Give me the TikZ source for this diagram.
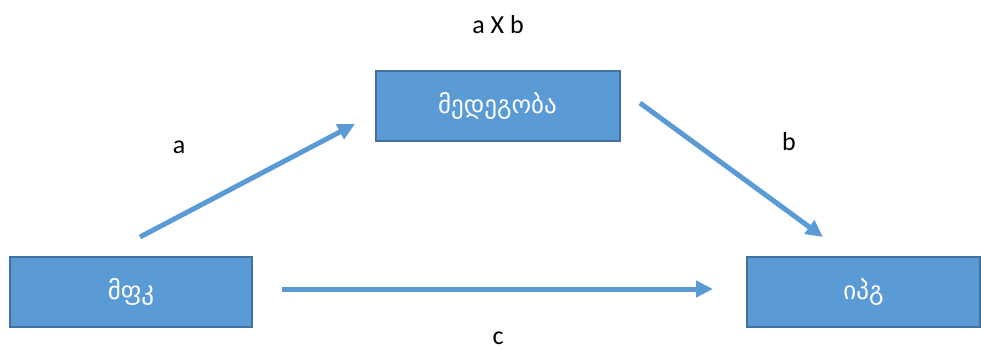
\documentclass[tikz,border=0pt]{standalone}
\usepackage{fontspec}
\setmainfont{Carlito}
\newfontfamily\geofont{DejaVu Sans}
\usetikzlibrary{arrows.meta}
\definecolor{boxblue}{HTML}{5B9BD5}
\definecolor{boxedge}{HTML}{41719C}
\tikzset{
  varbox/.style={draw=boxedge, line width=2pt, fill=boxblue, text=white,
    minimum width=244pt, minimum height=70pt, inner sep=0pt,
    font=\geofont\fontsize{25}{29}\selectfont},
  patharrow/.style={draw=boxblue, line width=5pt, -{Triangle[length=17pt,width=16pt]}},
  pathlabel/.style={anchor=base, inner sep=0pt, font=\fontsize{26}{30}\selectfont}
}
\begin{document}
\begin{tikzpicture}[x=1pt,y=-1pt]
    \useasboundingbox (0,0) rectangle (981,348);

    \node[varbox] (med) at (497.5,106) {მედეგობა};
    \node[varbox, minimum width=242pt] (mfk) at (131,292) {მფკ};
    \node[varbox, minimum width=233pt] (ipg) at (863.5,292) {იპგ};

    \coordinate (a0) at (140,237);
    \coordinate (a1) at (355,124);
    \coordinate (b0) at (640,103);
    \coordinate (b1) at (823,237);
    \coordinate (c0) at (282,289);
    \coordinate (c1) at (713,289);
    \draw[patharrow] (a0) -- (a1);
    \draw[patharrow] (b0) -- (b1);
    \draw[patharrow] (c0) -- (c1);

    \node[pathlabel] (axb) at (498,33) {a X b};
    \node[pathlabel] (la) at (179,153) {a};
    \node[pathlabel] (lb) at (789,150) {b};
    \node[pathlabel] (lc) at (498,344) {c};
  \end{tikzpicture}
\end{document}
